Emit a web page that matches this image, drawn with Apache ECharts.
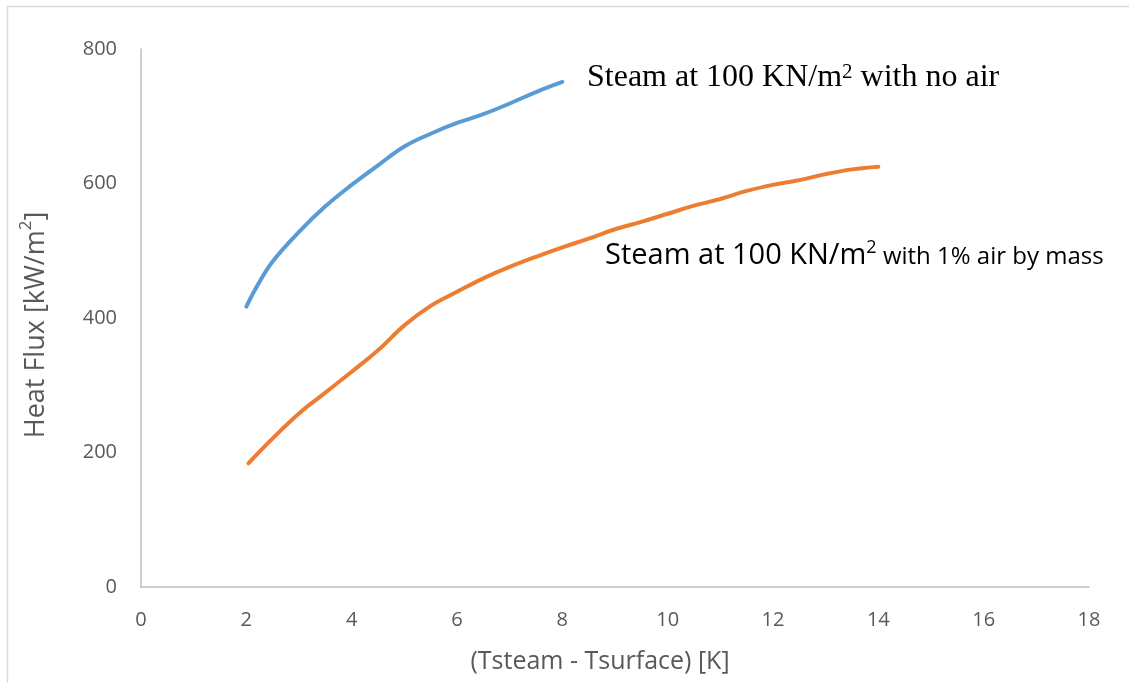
<!DOCTYPE html>
<html>
<head>
<meta charset="utf-8">
<script src="https://cdn.jsdelivr.net/npm/echarts@6/dist/echarts.min.js"></script>
<style>
  html, body { margin: 0; padding: 0; background: #fff; }
  #chart { width: 1129px; height: 683px; }
</style>
</head>
<body>
<div id="chart"></div>
<script>
// Temperature difference (K) and heat flux (kW/m²) for pure steam
const noAirT    = [2.0, 2.2, 2.5, 3.0, 3.5, 4.0, 4.5, 5.0, 5.5, 6.0, 6.5, 7.0, 7.5, 8.0];
const noAirFlux = [417, 447, 484, 528, 566, 598, 627, 655, 674, 690, 703, 719, 736, 751];

// Steam with 1% air by mass
const airT    = [2.04, 2.5, 3.0, 3.5, 4.0, 4.5, 5.0, 5.5, 6.0, 6.5, 7.0, 7.5, 8.0, 8.5, 9.0, 9.5, 10.0, 10.5, 11.0, 11.5, 12.0, 12.5, 13.0, 13.5, 14.0];
const airFlux = [184, 221, 258, 289, 320, 352, 389, 418, 439, 459, 476, 491, 505, 518, 532, 543, 555, 567, 577, 589, 598, 605, 614, 621, 625];

const xTicks = [0, 2, 4, 6, 8, 10, 12, 14, 16, 18];
const yTicks = [0, 200, 400, 600, 800];

const xTitle = '(Tsteam - Tsurface) [K]';
const yTitle = '{t|Heat Flux [kW/m}{s|2}{t|]}';
const labelNoAir = '{a|Steam at 100 KN/m}{s|2}{a| with no air}';
const labelAir = '{a|Steam at 100 KN/m}{s|2}{b| with 1% air by mass}';

const pairs = (xs, ys) => xs.map((x, i) => [x, ys[i]]);

const axisGray = '#595959';
const lineGray = '#bfbfbf';
const sans = '"Open Sans", sans-serif';
const serif = '"Liberation Serif", "Times New Roman", serif';

const chart = echarts.init(document.getElementById('chart'), null, { renderer: 'canvas' });

chart.setOption({
  backgroundColor: '#ffffff',
  animation: false,
  grid: { left: 141, right: 40, top: 49, bottom: 96, containLabel: false },
  xAxis: {
    type: 'value',
    min: xTicks[0],
    max: xTicks[xTicks.length - 1],
    interval: xTicks[1] - xTicks[0],
    axisLine: { show: true, onZero: false, lineStyle: { color: lineGray, width: 1.5 } },
    axisTick: { show: false },
    splitLine: { show: false },
    axisLabel: { color: axisGray, fontFamily: sans, fontSize: 20, margin: 23 },
    name: xTitle,
    nameLocation: 'middle',
    nameGap: 62,
    nameTextStyle: { color: axisGray, fontFamily: sans, fontSize: 25, padding: [0, 30, 0, 0] }
  },
  yAxis: {
    type: 'value',
    min: yTicks[0],
    max: yTicks[yTicks.length - 1],
    interval: yTicks[1] - yTicks[0],
    axisLine: { show: true, onZero: false, lineStyle: { color: lineGray, width: 1.5 } },
    axisTick: { show: false },
    splitLine: { show: false },
    axisLabel: { color: axisGray, fontFamily: sans, fontSize: 20, margin: 24 },
    name: yTitle,
    nameLocation: 'middle',
    nameGap: 87,
    nameTextStyle: {
      padding: [0, 14, 0, 0],
      rich: {
        t: { color: axisGray, fontFamily: sans, fontSize: 27, lineHeight: 36 },
        s: { color: axisGray, fontFamily: sans, fontSize: 17, lineHeight: 36, verticalAlign: 'top' }
      }
    }
  },
  series: [
    {
      name: 'no air',
      type: 'line',
      data: pairs(noAirT, noAirFlux),
      smooth: 0.4,
      showSymbol: false,
      lineStyle: { color: '#5B9BD5', width: 4, cap: 'round', join: 'round' },
      z: 3
    },
    {
      name: '1% air',
      type: 'line',
      data: pairs(airT, airFlux),
      smooth: 0.4,
      showSymbol: false,
      lineStyle: { color: '#ED7D31', width: 4, cap: 'round', join: 'round' },
      z: 3
    }
  ],
  graphic: [
    {
      type: 'rect',
      silent: true,
      shape: { x: 7.5, y: 6.5, width: 2000, height: 2000 },
      style: { fill: 'none', stroke: '#d9d9d9', lineWidth: 1.5 },
      z: -1
    },
    {
      type: 'text',
      left: 587,
      top: 60,
      silent: true,
      style: {
        text: labelNoAir,
        rich: {
          a: { fontFamily: serif, fontSize: 32, color: '#000', lineHeight: 36 },
          s: { fontFamily: serif, fontSize: 21, color: '#000', lineHeight: 36, verticalAlign: 'top', padding: [2, 0, 0, 0] }
        }
      }
    },
    {
      type: 'text',
      left: 605,
      top: 237,
      silent: true,
      style: {
        text: labelAir,
        rich: {
          a: { fontFamily: sans, fontSize: 29, color: '#000', lineHeight: 38 },
          s: { fontFamily: sans, fontSize: 18, color: '#000', lineHeight: 38, verticalAlign: 'top', padding: [2, 0, 0, 0] },
          b: { fontFamily: sans, fontSize: 24, color: '#000', lineHeight: 38, verticalAlign: 'bottom', padding: [0, 0, 6, 0] }
        }
      }
    }
  ]
});
</script>
</body>
</html>
